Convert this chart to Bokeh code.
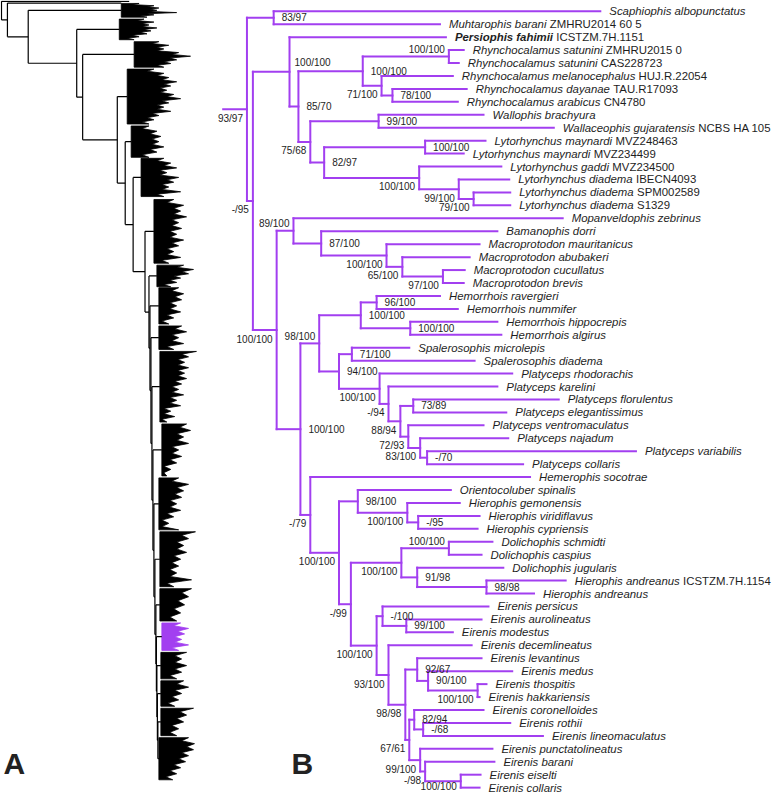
from bokeh.plotting import figure
from bokeh.models import Range1d, ColumnDataSource
from bokeh.core.properties import value
from bokeh.embed import file_html
from bokeh.resources import INLINE

# ---------------- Panel B data ----------------
TIP_TAXON = [
    "Scaphiophis albopunctatus", "Muhtarophis barani", "Persiophis fahimii",
    "Rhynchocalamus satunini", "Rhynchocalamus satunini", "Rhynchocalamus melanocephalus",
    "Rhynchocalamus dayanae", "Rhynchocalamus arabicus", "Wallophis brachyura",
    "Wallaceophis gujaratensis", "Lytorhynchus maynardi", "Lytorhynchus maynardi",
    "Lytorhynchus gaddi", "Lytorhynchus diadema", "Lytorhynchus diadema",
    "Lytorhynchus diadema", "Mopanveldophis zebrinus", "Bamanophis dorri",
    "Macroprotodon mauritanicus", "Macroprotodon abubakeri", "Macroprotodon cucullatus",
    "Macroprotodon brevis", "Hemorrhois ravergieri", "Hemorrhois nummifer",
    "Hemorrhois hippocrepis", "Hemorrhois algirus", "Spalerosophis microlepis",
    "Spalerosophis diadema", "Platyceps rhodorachis", "Platyceps karelini",
    "Platyceps florulentus", "Platyceps elegantissimus", "Platyceps ventromaculatus",
    "Platyceps najadum", "Platyceps variabilis", "Platyceps collaris",
    "Hemerophis socotrae", "Orientocoluber spinalis", "Hierophis gemonensis",
    "Hierophis viridiflavus", "Hierophis cypriensis", "Dolichophis schmidti",
    "Dolichophis caspius", "Dolichophis jugularis", "Hierophis andreanus",
    "Hierophis andreanus", "Eirenis persicus", "Eirenis aurolineatus",
    "Eirenis modestus", "Eirenis decemlineatus", "Eirenis levantinus",
    "Eirenis medus", "Eirenis thospitis", "Eirenis hakkariensis",
    "Eirenis coronelloides", "Eirenis rothii", "Eirenis lineomaculatus",
    "Eirenis punctatolineatus", "Eirenis barani", "Eirenis eiselti",
    "Eirenis collaris",
]
TIP_VOUCHER = [
    "", "ZMHRU2014 60 5", "ICSTZM.7H.1151", "ZMHRU2015 0", "CAS228723", "HUJ.R.22054",
    "TAU.R17093", "CN4780", "", "NCBS HA 105", "MVZ248463", "MVZ234499", "MVZ234500",
    "IBECN4093", "SPM002589", "S1329", "", "", "", "", "", "", "", "", "", "", "", "",
    "", "", "", "", "", "", "", "", "", "", "", "", "", "", "", "", "ICSTZM.7H.1154",
    "", "", "", "", "", "", "", "", "", "", "", "", "", "", "", "",
]
TIP_BOLD = [i == 2 for i in range(61)]
# cumulative depth of each tip (branch-length scale)
TIP_DEPTH = [
    606, 444, 450, 468, 463, 457, 471, 462, 488, 559,
    490, 468, 506, 514, 515, 515, 568, 502, 484, 474,
    469, 468, 444, 462, 502, 506, 413, 479, 517, 502,
    564, 511, 488, 513, 642, 528, 535, 455, 464, 484,
    482, 497, 486, 508, 571, 539, 493, 486, 457, 476,
    486, 517, 491, 484, 488, 515, 548, 497, 499, 485,
    484,
]

TREE_NEWICK = (
    "((t0,t1)A,((t2,(((t3,t4)E,(t5,(t6,t7)H)G)F,((t8,t9)J,((t10,t11)L,(t12,(t13,(t14,t15)O)N)M)K)I)D)C,"
    "((t16,(t17,(t18,(t19,(t20,t21)V)U)T)S)Q,"
    "((((t22,t23)Y1,(t24,t25)Y2)Y,((t26,t27)AA,(t28,(t29,((t30,t31)AE,(t32,(t33,(t34,t35)AH)AG)AF)AD)AC)AB)Z)W,"
    "(t36,((t37,(t38,(t39,t40)AM)AL)AJ,(((t41,t42)AP,(t43,(t44,t45)AR)AQ)AN,"
    "((t46,(t47,t48)AU)AS,(t49,((t50,(t51,(t52,t53)AZ)AY)AW,((t54,(t55,t56)BC)BA,(t57,(t58,(t59,t60)BE)BD)BB)AX)AV)AT)AO)AK)AI)X)R)P)B)ROOT"
)
NODE_IDS = ["ROOT", "A", "B", "C", "D", "E", "F", "G", "H", "I", "J", "K", "L", "M", "N", "O",
            "P", "Q", "S", "T", "U", "V", "R", "W", "Y", "Y1", "Y2", "Z", "AA", "AB", "AC", "AD",
            "AE", "AF", "AG", "AH", "X", "AI", "AJ", "AL", "AM", "AK", "AN", "AP", "AQ", "AR",
            "AO", "AS", "AU", "AT", "AV", "AW", "AY", "AZ", "AX", "BA", "BC", "BB", "BD", "BE"]
NODE_DEPTH = [249, 276, 255, 292, 301, 453, 366, 385, 396, 313, 382, 327, 429, 423, 463, 478,
              279, 296, 324, 390, 406, 447, 303, 322, 364, 380, 414, 342, 355, 383, 392, 404,
              417, 412, 424, 431, 313, 342, 361, 411, 422, 354, 405, 453, 421, 491,
              380, 386, 410, 392, 409, 421, 432, 482, 413, 418, 427, 424, 429, 465]
NODE_SUPPORT = ["93/97", "83/97", "-/95", "100/100", "85/70", "100/100", "100/100", "71/100",
                "78/100", "75/68", "99/100", "82/97", "100/100", "100/100", "99/100", "79/100",
                "100/100", "89/100", "87/100", "100/100", "65/100", "97/100", "100/100", "98/100",
                "100/100", "96/100", "100/100", "94/100", "71/100", "100/100", "-/94", "88/94",
                "73/89", "72/93", "83/100", "-/70", "-/79", "100/100", "98/100", "100/100", "-/95",
                "-/99", "100/100", "100/100", "91/98", "98/98", "100/100", "-/100", "99/100",
                "93/100", "98/98", "92/67", "90/100", "100/100", "67/61", "82/94", "-/68",
                "99/100", "-/98", "100/100"]
# where each support value sits relative to its node:
# R right, LB left-below, LS left-slightly-below, LA left-above, RA right-above
NODE_LABEL_SIDE = ["LB", "R", "LB", "RA", "R", "LA", "R", "LB", "R", "LB", "R", "R", "R", "LB",
                   "LB", "LB", "LB", "LA", "R", "LB", "LB", "LB", "R", "LA", "R", "R", "R", "R",
                   "R", "LB", "LB", "LB", "R", "LB", "LB", "R", "LB", "LB", "R", "LB", "R", "LB",
                   "LB", "LA", "R", "R", "LB", "R", "R", "LB", "LB", "R", "R", "LB", "LB", "R",
                   "R", "LB", "LB", "LS"]
ROOT_STEM_START = 225

# ---------------- Panel A data (overview tree, collapsed clades) ----------------
A_OUT_ROW = [0.8, 2.6]
A_OUT_DEPTH = [130, 122]
A_CLU_TOP = [3, 19, 42, 70, 128, 161, 203, 270, 293, 332, 358, 432, 487, 542, 600, 635, 665, 694, 722, 752]
A_CLU_BOT = [17, 40, 68, 126, 160, 200, 268, 292, 330, 356, 430, 485, 540, 598, 633, 663, 692, 720, 750, 795]
A_CLU_BASE = [122, 120, 135, 128, 132, 142, 155, 158, 160, 160, 161, 163, 160, 161, 161, 163, 162, 162, 162, 160]
A_CLU_PROFILE = [
    [140, 155, 160, 158, 178, 155, 148],
    [145, 155, 150, 158, 152, 148, 140, 135],
    [160, 170, 165, 180, 192, 178, 172, 165],
    [155, 165, 170, 178, 172, 168, 175, 182, 170, 165, 172, 160, 155, 150],
    [150, 158, 162, 160, 165, 158, 150],
    [165, 172, 178, 168, 180, 175, 170, 182, 165],
    [175, 185, 182, 188, 180, 183, 178, 185, 180, 175, 182, 170],
    [185, 195, 190, 182, 178, 172],
    [180, 185, 183, 178, 182, 175, 170],
    [183, 188, 180, 185, 175],
    [198, 190, 186, 190, 186, 188, 183, 180, 185, 178, 182, 172, 176, 168],
    [188, 192, 185, 190, 180, 183, 178, 172, 168],
    [180, 190, 185, 183, 178, 182, 175, 170, 180],
    [197, 190, 185, 188, 182, 180, 178, 193, 175],
    [193, 190, 186, 182, 178],
    [182, 190, 186, 183, 190, 180],
    [188, 183, 188, 183, 178],
    [185, 190, 183, 180, 176],
    [195, 188, 185, 180, 178],
    [190, 196, 195, 190, 187, 182, 178, 174],
]
A_HIGHLIGHT = 15  # clade enlarged in panel B
A_SPINE_DEPTH = [1, 7, 28, 77, 83, 118, 126, 134, 146, 150, 151, 152, 153, 154, 155, 156, 157,
                 157.5, 158, 158.5, 159]

# ---------------- layout / style constants ----------------
ROW0, ROW_STEP = 11, 13.2
PURPLE = "#a23ff0"
INK = "#1e1e1e"
FONT = value("Liberation Sans")
TIP_SIZE = 11.4
LAB_GAP = 9
NOTCH = 7
LABEL_OFFSETS = {"R": (8, 0), "RA": (5, -9), "LB": (-4, 9), "LS": (-4, 5), "LA": (-4, -7)}

# Helvetica/Arial advance widths (1/1000 em) to place the voucher after the italic name
HELV = {' ': 278, '.': 278, '-': 333, '/': 278}
HELV.update({d: 556 for d in "0123456789"})
HELV.update(dict(zip("ABCDEFGHIJKLMNOPQRSTUVWXYZ",
                     [667, 667, 722, 722, 667, 611, 778, 722, 278, 500, 667, 556, 833, 722, 778,
                      667, 778, 722, 667, 611, 722, 667, 944, 667, 667, 611])))
HELV.update(dict(zip("abcdefghijklmnopqrstuvwxyz",
                     [556, 556, 500, 556, 556, 278, 556, 556, 222, 222, 500, 222, 833, 556, 556,
                      556, 556, 333, 500, 278, 556, 500, 722, 500, 500, 500])))
HELVB = dict(HELV)
HELVB.update(dict(zip("abcdefghijklmnopqrstuvwxyz",
                      [556, 611, 556, 611, 556, 333, 611, 611, 278, 278, 556, 278, 889, 611, 611,
                       611, 611, 389, 556, 333, 611, 556, 778, 556, 556, 500])))


def text_width(s, size, bold=False):
    table = HELVB if bold else HELV
    return sum(table.get(ch, 556) for ch in s) * size / 1000.0


def parse_newick(s):
    pos = 0

    def parse():
        nonlocal pos
        children = []
        if s[pos] == "(":
            pos += 1
            while True:
                children.append(parse())
                if s[pos] == ",":
                    pos += 1
                elif s[pos] == ")":
                    pos += 1
                    break
        start = pos
        while pos < len(s) and s[pos] not in ",()":
            pos += 1
        return {"name": s[start:pos], "children": children}

    return parse()


depth_of = dict(zip(NODE_IDS, NODE_DEPTH))
support_of = dict(zip(NODE_IDS, NODE_SUPPORT))
side_of = dict(zip(NODE_IDS, NODE_LABEL_SIDE))

tree = parse_newick(TREE_NEWICK)


def place(node):
    if not node["children"]:
        i = int(node["name"][1:])
        node["x"] = TIP_DEPTH[i]
        node["y"] = ROW0 + ROW_STEP * i
    else:
        node["x"] = depth_of[node["name"]]
        for c in node["children"]:
            place(c)
        node["y"] = (node["children"][0]["y"] + node["children"][-1]["y"]) / 2.0


place(tree)

seg = {"x0": [], "y0": [], "x1": [], "y1": []}


def add_seg(x0, y0, x1, y1):
    seg["x0"].append(x0); seg["y0"].append(y0); seg["x1"].append(x1); seg["y1"].append(y1)


lab_r = {"x": [], "y": [], "t": [], "dx": [], "dy": []}
lab_l = {"x": [], "y": [], "t": [], "dx": [], "dy": []}


def walk(node):
    if node["children"]:
        kids = node["children"]
        add_seg(node["x"], kids[0]["y"], node["x"], kids[-1]["y"])
        for c in kids:
            add_seg(node["x"], c["y"], c["x"], c["y"])
            walk(c)
        side = side_of[node["name"]]
        d = lab_r if side in ("R", "RA") else lab_l
        dx, dy = LABEL_OFFSETS[side]
        d["x"].append(node["x"]); d["y"].append(node["y"]); d["t"].append(support_of[node["name"]])
        d["dx"].append(dx); d["dy"].append(dy)


walk(tree)
add_seg(ROOT_STEM_START, tree["y"], tree["x"], tree["y"])

tip_it = {"x": [], "y": [], "t": [], "dx": []}
tip_bd = {"x": [], "y": [], "t": [], "dx": []}
tip_vo = {"x": [], "y": [], "t": [], "dx": []}
for i, name in enumerate(TIP_TAXON):
    y = ROW0 + ROW_STEP * i
    x = TIP_DEPTH[i]
    d = tip_bd if TIP_BOLD[i] else tip_it
    d["x"].append(x); d["y"].append(y); d["t"].append(name); d["dx"].append(LAB_GAP)
    if TIP_VOUCHER[i]:
        w = text_width(name + " ", TIP_SIZE, bold=TIP_BOLD[i])
        tip_vo["x"].append(x); tip_vo["y"].append(y); tip_vo["t"].append(TIP_VOUCHER[i])
        tip_vo["dx"].append(LAB_GAP + w)

# ---------------- Panel A layout ----------------
a_leaves = []
for k in range(len(A_OUT_ROW)):
    a_leaves.append({"x": A_OUT_DEPTH[k], "y": A_OUT_ROW[k]})
for k in range(len(A_CLU_TOP)):
    a_leaves.append({"x": A_CLU_BASE[k], "y": (A_CLU_TOP[k] + A_CLU_BOT[k]) / 2.0})

aseg = {"x0": [], "y0": [], "x1": [], "y1": []}


def a_add(x0, y0, x1, y1):
    aseg["x0"].append(x0); aseg["y0"].append(y0); aseg["x1"].append(x1); aseg["y1"].append(y1)


n_sp = len(A_SPINE_DEPTH)
node_y = [0.0] * n_sp
# pectinate backbone: node j joins leaf j with node j+1 (last node joins the last two leaves)
for j in range(n_sp - 1, -1, -1):
    lower_y = a_leaves[j + 1]["y"] if j == n_sp - 1 else node_y[j + 1]
    node_y[j] = (a_leaves[j]["y"] + lower_y) / 2.0
    a_add(A_SPINE_DEPTH[j], a_leaves[j]["y"], A_SPINE_DEPTH[j], lower_y)
    a_add(A_SPINE_DEPTH[j], a_leaves[j]["y"], a_leaves[j]["x"], a_leaves[j]["y"])
    if j == n_sp - 1:
        lf = a_leaves[j + 1]
        a_add(A_SPINE_DEPTH[j], lf["y"], lf["x"], lf["y"])
    else:
        a_add(A_SPINE_DEPTH[j], node_y[j + 1], A_SPINE_DEPTH[j + 1], node_y[j + 1])

poly_xs, poly_ys, poly_col = [], [], []
for k in range(len(A_CLU_TOP)):
    prof = A_CLU_PROFILE[k]
    top, bot, base = A_CLU_TOP[k], A_CLU_BOT[k], A_CLU_BASE[k]
    n = len(prof)
    ys = [top + (bot - top) * m / (n - 1) for m in range(n)]
    xs_, ys_ = [base], [top]
    for m in range(n):
        xs_.append(prof[m]); ys_.append(ys[m])
        if m < n - 1:  # gap between neighbouring tip groups
            xs_.append(max(base + 2, min(prof[m], prof[m + 1]) - NOTCH))
            ys_.append((ys[m] + ys[m + 1]) / 2.0)
    xs_.append(base); ys_.append(bot)
    poly_xs.append(xs_); poly_ys.append(ys_)
    poly_col.append(PURPLE if k == A_HIGHLIGHT else "black")

# ---------------- figure ----------------
p = figure(width=775, height=794, x_range=Range1d(0, 783), y_range=Range1d(810, 0),
           output_backend="svg", toolbar_location=None, min_border=0,
           x_axis_location=None, y_axis_location=None)
p.grid.visible = False
p.outline_line_color = None
p.background_fill_color = "white"
p.border_fill_color = "white"

# panel A
p.patches(xs=poly_xs, ys=poly_ys, fill_color=poly_col, line_color=poly_col, line_width=0.8)
p.segment(x0="x0", y0="y0", x1="x1", y1="y1", source=ColumnDataSource(aseg),
          line_color="black", line_width=1.2)

# panel B
p.segment(x0="x0", y0="y0", x1="x1", y1="y1", source=ColumnDataSource(seg),
          line_color=PURPLE, line_width=2, line_cap="square")

p.text(x="x", y="y", text="t", x_offset="dx", source=ColumnDataSource(tip_it),
       text_font=FONT, text_font_size=f"{TIP_SIZE}px", text_font_style="italic",
       text_color=INK, text_align="left", text_baseline="middle")
p.text(x="x", y="y", text="t", x_offset="dx", source=ColumnDataSource(tip_bd),
       text_font=FONT, text_font_size=f"{TIP_SIZE}px", text_font_style="bold italic",
       text_color=INK, text_align="left", text_baseline="middle")
p.text(x="x", y="y", text="t", x_offset="dx", source=ColumnDataSource(tip_vo),
       text_font=FONT, text_font_size=f"{TIP_SIZE}px", text_font_style="normal",
       text_color=INK, text_align="left", text_baseline="middle")

p.text(x="x", y="y", text="t", x_offset="dx", y_offset="dy", source=ColumnDataSource(lab_r),
       text_font=FONT, text_font_size="10px", text_color=INK,
       text_align="left", text_baseline="middle")
p.text(x="x", y="y", text="t", x_offset="dx", y_offset="dy", source=ColumnDataSource(lab_l),
       text_font=FONT, text_font_size="10px", text_color=INK,
       text_align="right", text_baseline="middle")

# panel letters
PANEL_LETTERS = ["A", "B"]
PANEL_X = [3, 294]
PANEL_Y = [778, 778]
p.text(x=PANEL_X, y=PANEL_Y, text=PANEL_LETTERS, text_font=FONT, text_font_size="30px",
       text_font_style="bold", text_color="#222222", text_align="left",
       text_baseline="middle")

open("out.html", "w").write(file_html(p, INLINE))
